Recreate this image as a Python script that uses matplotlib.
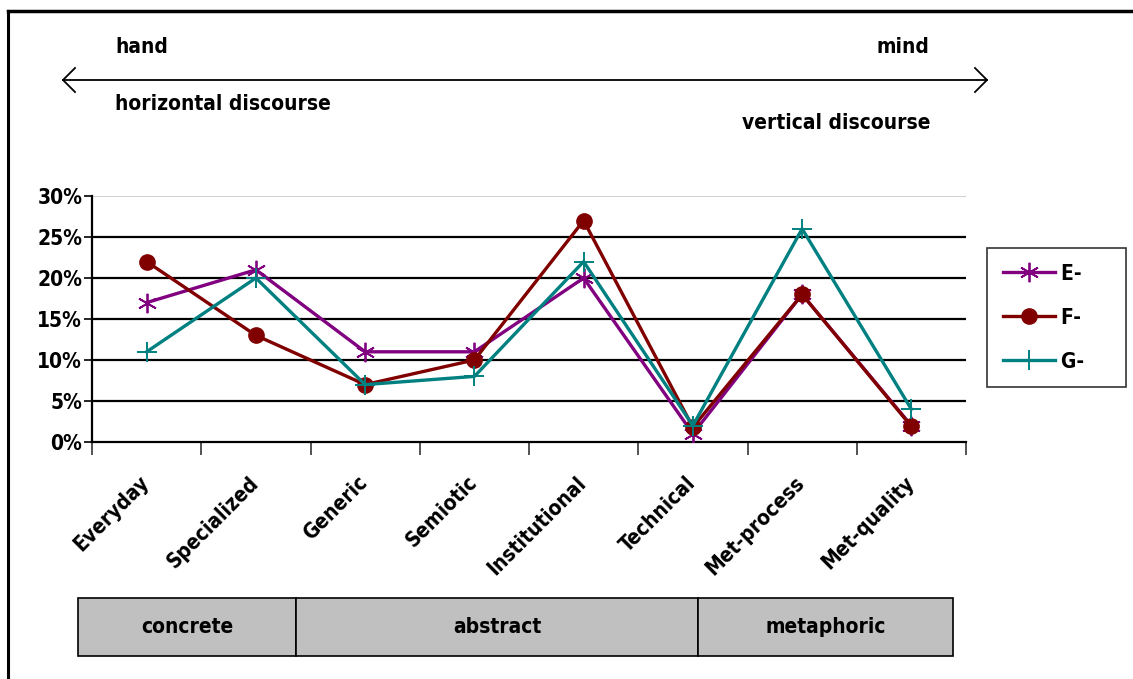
import numpy as np
import matplotlib.pyplot as plt
from matplotlib.patches import Rectangle
from matplotlib.lines import Line2D

plt.rcParams['font.family'] = ['DejaVu Sans']
plt.rcParams['font.stretch'] = 'condensed'
plt.rcParams['font.weight'] = 'bold'

categories = ['Everyday', 'Specialized', 'Generic', 'Semiotic',
              'Institutional', 'Technical', 'Met-process', 'Met-quality']
e_vals = [17, 21, 11, 11, 20, 1, 18, 2]
f_vals = [22, 13, 7, 10, 27, 1.8, 18, 1.9]
g_vals = [11, 20, 7, 8, 22, 2, 26, 4]
y_ticks = [0, 5, 10, 15, 20, 25, 30]
groups = ['concrete', 'abstract', 'metaphoric']

W, H = 1133, 679
fig = plt.figure(figsize=(W / 100, H / 100), dpi=100)


def fx(px):
    return px / W


def fy(py):
    return 1 - py / H


# outer frame
fig.add_artist(Line2D([fx(8), fx(8)], [fy(11), fy(679)], color='black', lw=2.2))
fig.add_artist(Line2D([fx(8), fx(1133)], [fy(11), fy(11)], color='black', lw=2.5))

# hand <-> mind arrow and its labels
fig.add_artist(Line2D([fx(63), fx(987)], [fy(80), fy(80)], color='black', lw=1.3))
for x0, d in [(63, 1), (987, -1)]:
    fig.add_artist(Line2D([fx(x0 + d * 12), fx(x0), fx(x0 + d * 12)],
                          [fy(68), fy(80), fy(92)], color='black', lw=1.3))
fig.text(fx(115), fy(47), 'hand', fontsize=15, va='center')
fig.text(fx(929), fy(47), 'mind', fontsize=15, va='center', ha='right')
fig.text(fx(115), fy(104), 'horizontal discourse', fontsize=15, va='center')
fig.text(fx(930), fy(123), 'vertical discourse', fontsize=15, va='center', ha='right')

ax = fig.add_axes([fx(92), fy(442), fx(966) - fx(92), fy(196) - fy(442)])
x = np.arange(len(categories))

ax.plot(x, e_vals, color='#800080', lw=2.4, marker=(6, 2, 0), ms=14, mew=1.3, label='E-', zorder=3)
ax.plot(x, f_vals, color='#800000', lw=2.4, marker='o', ms=11, label='F-', zorder=4)
ax.plot(x, g_vals, color='#008080', lw=2.4, marker='+', ms=15, mew=1.4, label='G-', zorder=5)

ax.set_xlim(-0.5, len(categories) - 0.5)
ax.set_ylim(0, 30)
ax.set_yticks(y_ticks)
ax.set_yticklabels([f'{t}%' for t in y_ticks], fontsize=15)
for t in y_ticks[1:-1]:
    ax.axhline(t, color='black', lw=1.6, zorder=1)
ax.axhline(30, color='#c8c8c8', lw=1.2, zorder=1)

ax.set_xticks(np.arange(len(categories) + 1) - 0.5)
ax.set_xticklabels([])
ax.tick_params(axis='x', direction='out', length=9, width=1.2, color='#333333')
ax.tick_params(axis='y', direction='out', length=6, width=1.2, pad=1)
for i, c in enumerate(categories):
    ax.text(i - 0.07, -3.7, c, rotation=45, ha='right', va='top',
            rotation_mode='anchor', fontsize=15)

for s in ['top', 'right']:
    ax.spines[s].set_visible(False)
ax.spines['left'].set_linewidth(1.6)
ax.spines['bottom'].set_linewidth(1.6)
ax.spines['left'].set_bounds(0, 30)

handles, labels = ax.get_legend_handles_labels()
leg = fig.legend(handles, [lb + '    ' for lb in labels],
                 loc='upper left', bbox_to_anchor=(fx(987), fy(248)),
                 bbox_transform=fig.transFigure, fontsize=15, frameon=True,
                 fancybox=False, edgecolor='black', handlelength=2.5,
                 labelspacing=1.15, borderpad=0.75, handletextpad=0.3,
                 borderaxespad=0)
leg.get_frame().set_linewidth(1.2)

# group boxes under the categories
box_edges = [78, 296, 698, 953]
for i, g in enumerate(groups):
    x0, x1 = box_edges[i], box_edges[i + 1]
    fig.add_artist(Rectangle((fx(x0), fy(656)), fx(x1) - fx(x0), fy(598) - fy(656),
                             facecolor='#c0c0c0', edgecolor='black', lw=1.2))
    fig.text(fx((x0 + x1) / 2), fy(627), g, ha='center', va='center', fontsize=15)

fig.savefig('out.png', dpi=100)
